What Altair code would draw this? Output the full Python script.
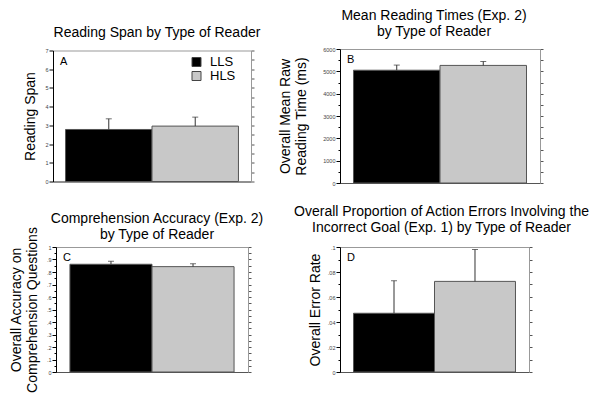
import altair as alt
import pandas as pd

READERS = ["LLS", "HLS"]
BAR_COLORS = ["#000000", "#c8c8c8"]

# Panel A: Reading span
SPAN_MEAN = [2.78, 2.96]
SPAN_UPPER = [3.35, 3.44]
SPAN_TICKS = [0, 1, 2, 3, 4, 5, 6, 7]

# Panel B: mean reading times (ms)
RT_MEAN = [5050, 5265]
RT_UPPER = [5280, 5440]
RT_TICKS = [0, 1000, 2000, 3000, 4000, 5000, 6000]

# Panel C: comprehension accuracy
ACC_MEAN = [0.862, 0.843]
ACC_UPPER = [0.886, 0.866]
ACC_TICKS = [0, 0.1, 0.2, 0.3, 0.4, 0.5, 0.6, 0.7, 0.8, 0.9, 1]

# Panel D: error rate
ERR_MEAN = [0.047, 0.0725]
ERR_UPPER = [0.073, 0.098]
ERR_TICKS = [0, 0.02, 0.04, 0.06, 0.08, 0.1]

LETTERS = ["A", "B", "C", "D"]
TITLES = [
    "Reading Span by Type of Reader",
    ["Mean Reading Times (Exp. 2)", "by Type of Reader"],
    ["Comprehension Accuracy (Exp. 2)", "by Type of Reader"],
    ["Overall Proportion of Action Errors Involving the",
     "Incorrect Goal (Exp. 1) by Type of Reader"],
]
YTITLES = [
    "Reading Span",
    ["Overall Mean Raw", "Reading Time (ms)"],
    ["Overall Accuracy on", "Comprehension Questions"],
    "Overall Error Rate",
]

FONT = "Liberation Sans"


def panel(i, means, uppers, major, fmt, w, h, pad_outer, title_dx, title_offset,
          ytitle_pad, legend=None):
    df = pd.DataFrame({"reader": READERS, "mean": means, "upper": uppers})
    minor = [(a + b) / 2 for a, b in zip(major[:-1], major[1:])]
    allticks = sorted(major + minor)
    maj_js = "[" + ",".join(repr(v) for v in major) + "]"
    is_minor = f"indexof({maj_js}, datum.value) < 0"
    yscale = alt.Scale(domain=[major[0], major[-1]], nice=False, zero=True)

    left = alt.Axis(
        orient="left", values=allticks, format=fmt, grid=False,
        labelExpr=f"{is_minor} ? '' : replace(datum.label, '0.', '.')",
        tickSize={"condition": {"test": is_minor, "value": 2}, "value": 4},
        tickColor="#000", tickWidth=1, domainColor="#000", domainWidth=1,
        labelFontSize=5.5, labelColor="#444", labelPadding=1, labelFont=FONT,
        title=YTITLES[i], titleFontSize=14, titleFontWeight="normal",
        titleColor="#000", titleFont=FONT, titlePadding=ytitle_pad,
        titleLineHeight=16,
    )
    right = alt.Axis(
        orient="right", values=allticks, labels=False, grid=False, title=None,
        tickSize=3, tickColor="#555", domainColor="#999", domainWidth=1,
    )
    x = alt.X(
        "reader:N", sort=READERS,
        scale=alt.Scale(paddingInner=0, paddingOuter=pad_outer),
        axis=alt.Axis(title=None, labels=False, ticks=False, domainColor="#555",
                      domainWidth=1, grid=False),
    )
    base = alt.Chart(df)
    bars = base.mark_bar(stroke="#555", strokeWidth=1, opacity=1).encode(
        x=x,
        y=alt.Y("mean:Q", scale=yscale, axis=left),
        color=alt.Color("reader:N", scale=alt.Scale(domain=READERS, range=BAR_COLORS),
                        legend=legend),
    )
    rules = base.mark_rule(color="#333", strokeWidth=1).encode(
        x=x,
        y=alt.Y("mean:Q", scale=yscale, axis=right),
        y2="upper:Q",
    )
    caps = base.mark_tick(orient="horizontal", size=6, thickness=1, color="#333").encode(
        x=x,
        y=alt.Y("upper:Q", scale=yscale, axis=None),
    )
    label = alt.Chart(pd.DataFrame({"letter": [LETTERS[i]]})).mark_text(
        align="left", baseline="alphabetic", fontSize=11, font=FONT, color="#000"
    ).encode(x=alt.value(7), y=alt.value(14), text="letter:N")

    return alt.layer(bars, rules, caps, label).resolve_axis(y="independent").properties(
        width=w, height=h,
        title=alt.TitleParams(
            text=TITLES[i], fontSize=14, fontWeight="normal", font=FONT, color="#000",
            anchor="middle", frame="group", offset=title_offset, dx=title_dx,
            lineHeight=16,
        ),
    )


legend_a = alt.Legend(
    orient="none", legendX=137, legendY=5, title=None, symbolType="square",
    symbolSize=81, symbolStrokeColor="#444", symbolStrokeWidth=1,
    labelFontSize=13, labelFont=FONT, labelColor="#000", labelOffset=7,
    rowPadding=0, padding=0,
)

pa = panel(0, SPAN_MEAN, SPAN_UPPER, SPAN_TICKS, "d", 198, 131, 0.145, 5, 9, 7,
           legend=legend_a)
pb = panel(1, RT_MEAN, RT_UPPER, RT_TICKS, "d", 200, 134, 0.156, -6, 8, 14)
pc = panel(2, ACC_MEAN, ACC_UPPER, ACC_TICKS, ".1~f", 192, 125, 0.17, 5, -15, 7)
pd_ = panel(3, ERR_MEAN, ERR_UPPER, ERR_TICKS, ".2~f", 189, 125, 0.167, 7, 10, 5)

chart = alt.concat(
    pa, pb, pc, pd_, columns=2, spacing={"row": 64, "column": 89},
    bounds="flush", align="each", center=True,
).resolve_scale(color="independent").properties(
    padding=0, background="#ffffff"
).configure(
    font=FONT,
    style={"group-title": {"fontSize": 14, "fontWeight": "normal"}},
).configure_title(
    fontSize=14, fontWeight="normal", font=FONT, color="#000"
).configure_view(stroke="#999", strokeWidth=1)

chart.save("out.html", embed_options={"renderer": "svg", "actions": False})
